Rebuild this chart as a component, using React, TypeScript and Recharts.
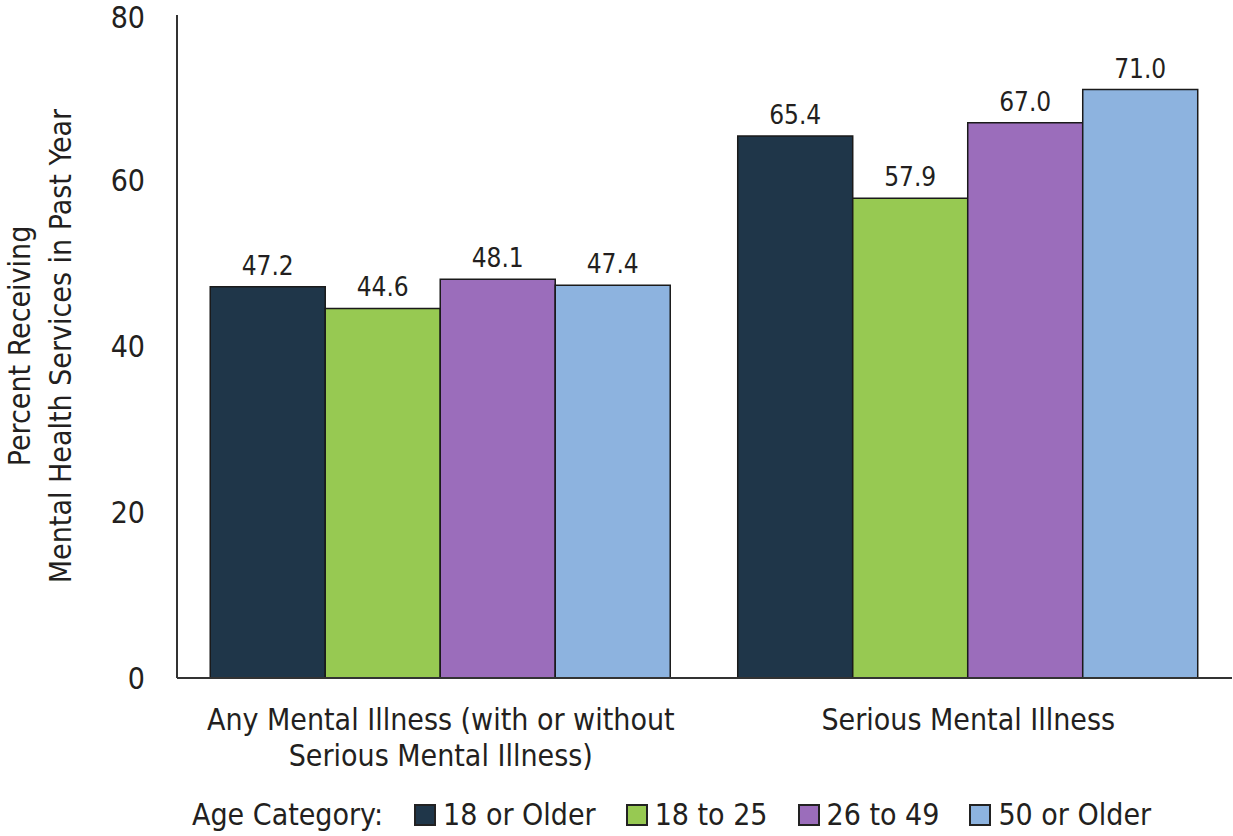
import React from 'react';
import { BarChart, Bar, XAxis, YAxis, Legend, LabelList } from 'recharts';

const categories = ['Any Mental Illness (with or without|Serious Mental Illness)', 'Serious Mental Illness'];
const age18Older = [47.2, 65.4];
const age18to25 = [44.6, 57.9];
const age26to49 = [48.1, 67.0];
const age50Older = [47.4, 71.0];
const yTicks = [0, 20, 40, 60, 80];

const seriesNames = ['18 or Older', '18 to 25', '26 to 49', '50 or Older'];
const seriesKeys = ['a', 'b', 'c', 'd'];
const colors = ['#1F3649', '#97C952', '#9B6DBB', '#8DB3DF'];

const data = categories.map((name, i) => ({
  name,
  a: age18Older[i],
  b: age18to25[i],
  c: age26to49[i],
  d: age50Older[i],
}));

const FONT = '"Liberation Sans Narrow", "DejaVu Sans Condensed", Arial, sans-serif';
const TEXT = '#231F20';

const XTick = (props: any) => {
  const { x, y, payload } = props;
  const lines = String(payload.value).split('|');
  return (
    <g>
      {lines.map((l, i) => (
        <text key={i} x={x} y={y + 44 + i * 36} textAnchor="middle" fontSize={30} fill={TEXT} fontFamily={FONT}>
          {l}
        </text>
      ))}
    </g>
  );
};

const YTitle = () => (
  <g>
    <text transform="translate(30,346) rotate(-90)" textAnchor="middle" fontSize={30} fill={TEXT} fontFamily={FONT}>
      Percent Receiving
    </text>
    <text transform="translate(71,346) rotate(-90)" textAnchor="middle" fontSize={30} fill={TEXT} fontFamily={FONT}>
      Mental Health Services in Past Year
    </text>
  </g>
);

const LegendContent = () => (
  <div style={{ display: 'flex', alignItems: 'center', fontFamily: FONT, fontSize: 30, color: TEXT, whiteSpace: 'nowrap', lineHeight: '36px' }}>
    <span style={{ marginRight: 31 }}>Age Category:</span>
    {seriesNames.map((n, i) => (
      <span key={n} style={{ display: 'flex', alignItems: 'center', marginRight: 30 }}>
        <span
          style={{
            display: 'inline-block',
            width: 18,
            height: 18,
            background: colors[i],
            border: '2px solid #222',
            marginRight: 7,
          }}
        />
        {n}
      </span>
    ))}
  </div>
);

export default function App() {
  return (
    <div style={{ position: 'absolute', left: 0, top: 0, background: '#fff' }}>
      <BarChart
        width={1233}
        height={836}
        data={data}
        margin={{ top: 15, right: 1, left: 0, bottom: 0 }}
        barCategoryGap="6.3%"
        barGap={0}
      >
        <XAxis
          dataKey="name"
          height={110}
          tickLine={false}
          axisLine={{ stroke: '#333', strokeWidth: 2 }}
          tick={<XTick />}
          interval={0}
        />
        <YAxis
          width={177}
          domain={[0, 80]}
          ticks={yTicks}
          tickLine={false}
          tickMargin={26}
          axisLine={{ stroke: '#333', strokeWidth: 2 }}
          tick={{ fontSize: 30, fill: TEXT, fontFamily: FONT }}
          label={<YTitle />}
        />
        <Legend
          verticalAlign="bottom"
          height={48}
          content={<LegendContent />}
          wrapperStyle={{ position: 'absolute', top: 797, left: 192, width: 1040 }}
        />
        {seriesKeys.map((k, i) => (
          <Bar key={k} dataKey={k} name={seriesNames[i]} fill={colors[i]} stroke="#1a1a1a" strokeWidth={1.5} isAnimationActive={false}>
            <LabelList
              dataKey={k}
              position="top"
              offset={12}
              formatter={(v: any) => Number(v).toFixed(1)}
              style={{ fontSize: 26, fill: TEXT, fontFamily: FONT }}
            />
          </Bar>
        ))}
      </BarChart>
    </div>
  );
}
